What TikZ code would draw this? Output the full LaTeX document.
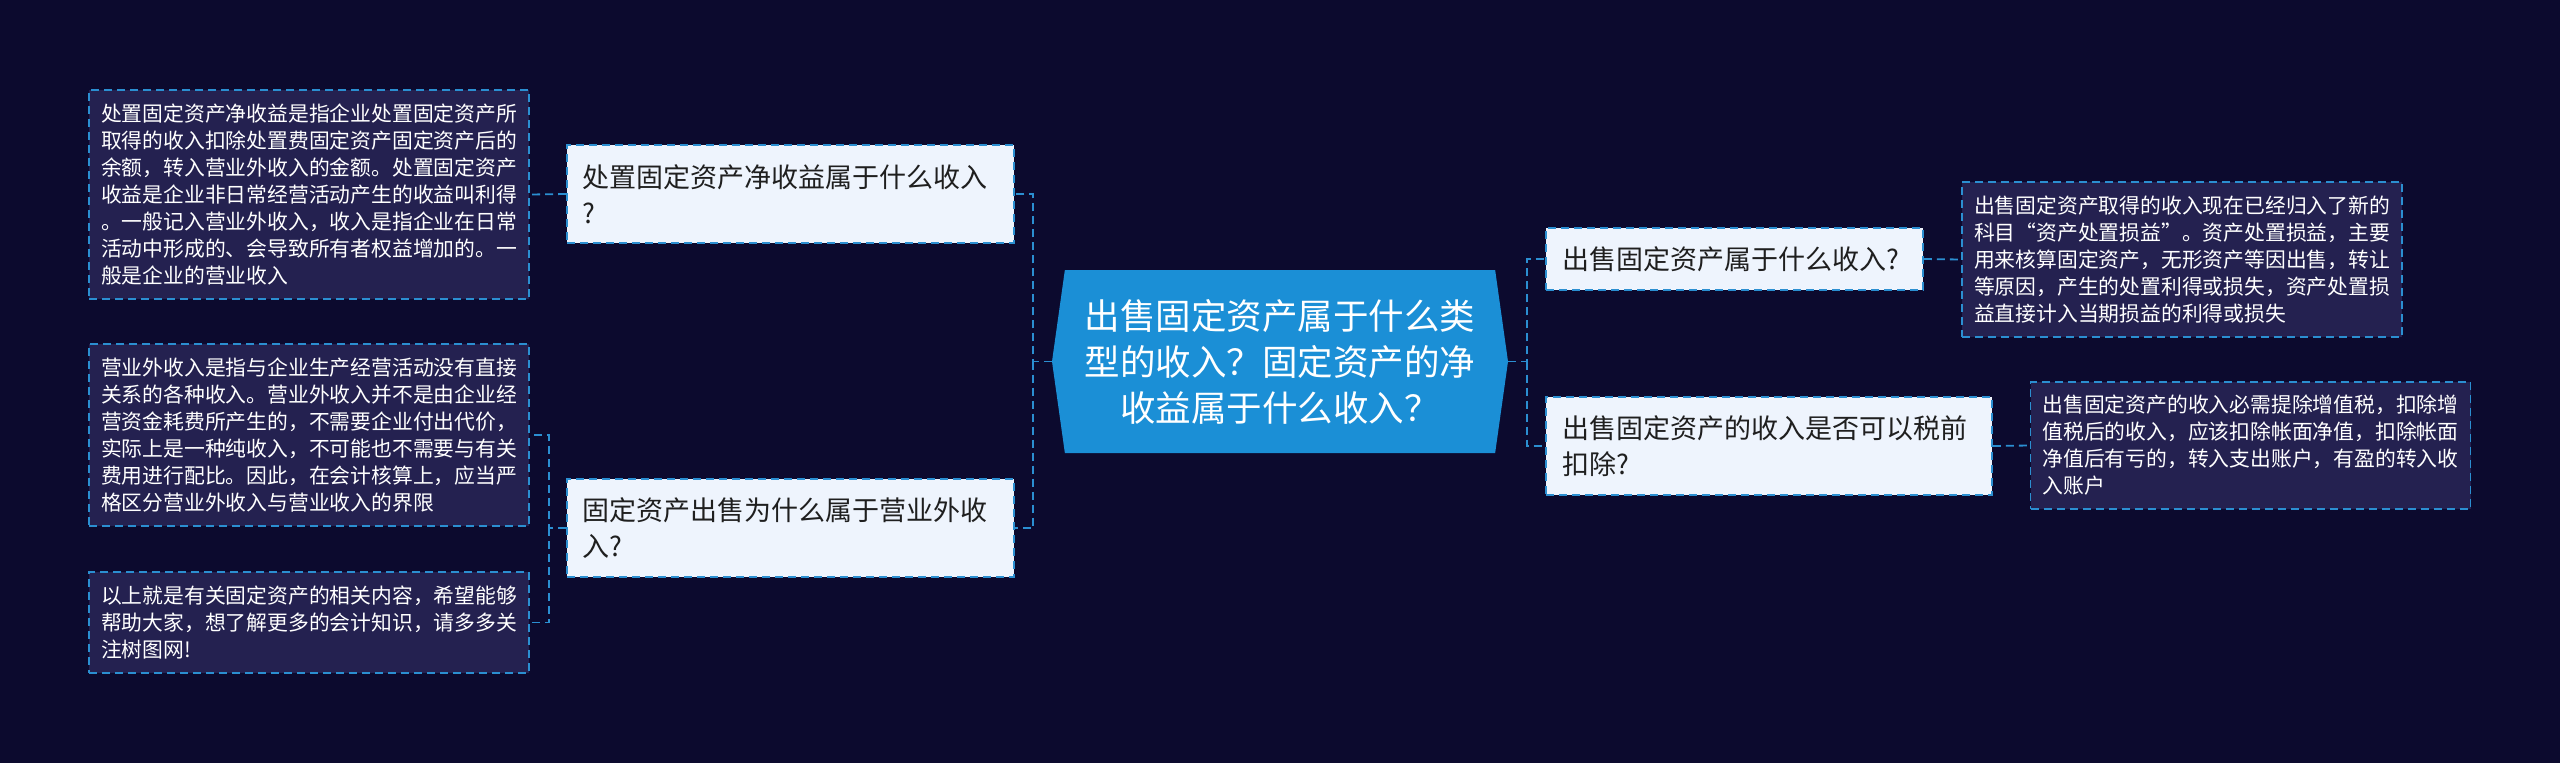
\documentclass[tikz,border=0pt]{standalone}
\usepackage{fontspec}
\setmainfont{Noto Sans CJK SC}
\usetikzlibrary{shapes.symbols}

\definecolor{bgnavy}{HTML}{0C0A2E}
\definecolor{leaffill}{HTML}{242150}
\definecolor{askfill}{HTML}{EEF4FD}
\definecolor{mainfill}{HTML}{1B8FD6}
\definecolor{dashblue}{HTML}{2B8FD1}
\definecolor{asktext}{HTML}{1F1F1F}

\begin{document}
\begin{tikzpicture}[x=1pt, y=-1pt,
  dashbox/.style={draw=dashblue, line width=1.6pt, dash pattern=on 8pt off 5pt},
  leaf/.style={dashbox, fill=leaffill, text=white, align=left, text width=416pt,
    inner xsep=12pt, inner ysep=0pt, font=\fontsize{20.8}{27}\selectfont},
  ask/.style={dashbox, fill=askfill, text=asktext, align=left,
    inner xsep=15pt, inner ysep=0pt, font=\fontsize{27}{36}\selectfont},
  link/.style={draw=dashblue, line width=1.8pt, dash pattern=on 8pt off 5pt}]

% background
\fill[bgnavy] (0,0) rectangle (2560,763);

% centre topic
\node[signal, signal to=east and west, signal pointer angle=164, fill=mainfill,
  text=white, align=center, minimum width=456pt, minimum height=183pt, inner sep=0pt,
  font=\fontsize{35.5}{46}\selectfont] (main) at (1280,361.5)
  {出售固定资产属于什么类\\型的收入？固定资产的净\\收益属于什么收入？};

% left branch
\node[ask, text width=417pt, minimum height=98pt] (q1) at (790.5,194)
  {处置固定资产净收益属于什么收入\\?};
\node[ask, text width=417pt, minimum height=98pt] (q2) at (790.5,528)
  {固定资产出售为什么属于营业外收\\入?};

\node[leaf, minimum height=209pt] (l1) at (309,194.5)
  {处置固定资产净收益是指企业处置固定资产所\\
   取得的收入扣除处置费固定资产固定资产后的\\
   余额，转入营业外收入的金额。处置固定资产\\
   收益是企业非日常经营活动产生的收益叫利得\\
   。一般记入营业外收入，收入是指企业在日常\\
   活动中形成的、会导致所有者权益增加的。一\\
   般是企业的营业收入};
\node[leaf, minimum height=182pt] (l2) at (309,435)
  {营业外收入是指与企业生产经营活动没有直接\\
   关系的各种收入。营业外收入并不是由企业经\\
   营资金耗费所产生的，不需要企业付出代价，\\
   实际上是一种纯收入，不可能也不需要与有关\\
   费用进行配比。因此，在会计核算上，应当严\\
   格区分营业外收入与营业收入的界限};
\node[leaf, minimum height=101pt] (l3) at (309,622.5)
  {以上就是有关固定资产的相关内容，希望能够\\
   帮助大家，想了解更多的会计知识，请多多关\\
   注树图网!};

% right branch
\node[ask, inner xsep=16pt, text width=345pt, minimum height=62pt] (q3) at (1734.5,259)
  {出售固定资产属于什么收入?};
\node[ask, inner xsep=16pt, text width=414pt, minimum height=98pt] (q4) at (1769,446)
  {出售固定资产的收入是否可以税前\\扣除?};

\node[leaf, minimum height=155pt] (r1) at (2182,259.5)
  {出售固定资产取得的收入现在已经归入了新的\\
   科目“资产处置损益”。资产处置损益，主要\\
   用来核算固定资产，无形资产等因出售，转让\\
   等原因，产生的处置利得或损失，资产处置损\\
   益直接计入当期损益的利得或损失};
\node[leaf, minimum height=127pt] (r2) at (2250.5,445.5)
  {出售固定资产的收入必需提除增值税，扣除增\\
   值税后的收入，应该扣除帐面净值，扣除帐面\\
   净值后有亏的，转入支出账户，有盈的转入收\\
   入账户};

% connectors
\coordinate (lbus) at (1033,361.5);
\coordinate (rbus) at (1527,361.5);
\coordinate (q2bus) at (549,528);

\draw[link] (main.west) -- (lbus) |- (q1.east);
\draw[link] (lbus) |- (q2.east);
\draw[link] (main.east) -- (rbus) |- (q3.west);
\draw[link] (rbus) |- (q4.west);

\draw[link] (q1.west) -- (l1.east);
\draw[link] (q2.west) -- (q2bus) |- (l2.east);
\draw[link] (q2bus) |- (l3.east);
\draw[link] (q3.east) -- (r1.west);
\draw[link] (q4.east) -- (r2.west);
\end{tikzpicture}
\end{document}
